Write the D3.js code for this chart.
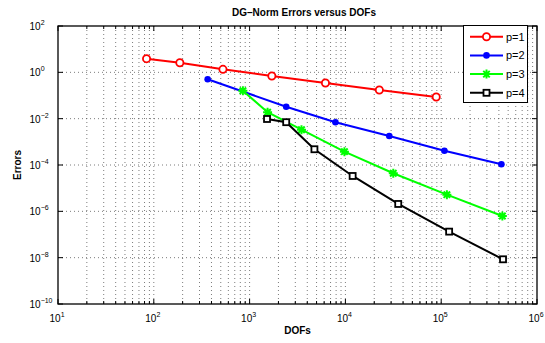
<!DOCTYPE html>
<html>
<head>
<meta charset="utf-8">
<script src="https://cdn.jsdelivr.net/npm/d3@7"></script>
<style>
  body { margin: 0; background: #fff; }
  text { font-family: "Liberation Sans", Arial, sans-serif; }
</style>
</head>
<body>
<script>
// data (DOFs vs DG-norm error)
const seriesNames = ['p=1', 'p=2', 'p=3', 'p=4'];
const colors = ['#ff0000', '#0000ff', '#00ff00', '#000000'];
const markers = ['circle', 'dot', 'star', 'square'];

const dofs1 = [84, 187, 527, 1707, 6190, 22600, 88700];
const err1 = [3.88, 2.6, 1.35, 0.695, 0.347, 0.173, 0.086];

const dofs2 = [365, 2410, 7870, 28700, 108000, 425000];
const err2 = [0.50, 0.0329, 0.00698, 0.00179, 4.15e-4, 1.07e-4];

const dofs3 = [851, 1540, 3480, 9770, 31600, 114600, 435000];
const err3 = [0.161, 0.0190, 3.34e-3, 3.76e-4, 4.39e-5, 5.24e-6, 6.3e-7];

const dofs4 = [1520, 2410, 4750, 11900, 35600, 121000, 442000];
const err4 = [0.00969, 0.00705, 4.78e-4, 3.36e-5, 2.08e-6, 1.33e-7, 8.5e-9];

const xExps = [1, 2, 3, 4, 5, 6];
const yExps = [2, 0, -2, -4, -6, -8, -10];

const series = [
  { x: dofs1, y: err1 },
  { x: dofs2, y: err2 },
  { x: dofs3, y: err3 },
  { x: dofs4, y: err4 }
];

const W = 545, H = 343;
const pl = 58, pr = 537, pt = 26, pb = 304;

const svg = d3.select('body').append('svg')
  .attr('width', W)
  .attr('height', H);

const x = d3.scaleLog().domain([1e1, 1e6]).range([pl, pr]);
const y = d3.scaleLog().domain([1e-10, 1e2]).range([pb, pt]);

// grid lines
const grid = svg.append('g')
  .attr('stroke', '#444')
  .attr('stroke-width', 0.7)
  .attr('stroke-dasharray', '1,3');

const xMinor = [];
for (let e = 1; e < 6; e++) {
  for (let m = 1; m < 10; m++) xMinor.push(m * Math.pow(10, e));
}
xMinor.push(1e6);

grid.selectAll('line.vx')
  .data(xMinor.filter(v => v > 10 && v < 1e6))
  .enter().append('line')
  .attr('x1', d => x(d)).attr('x2', d => x(d))
  .attr('y1', pt).attr('y2', pb);

grid.selectAll('line.hy')
  .data(yExps.filter(e => e > -10 && e < 2))
  .enter().append('line')
  .attr('y1', e => y(Math.pow(10, e))).attr('y2', e => y(Math.pow(10, e)))
  .attr('x1', pl).attr('x2', pr);

// axis box
svg.append('rect')
  .attr('x', pl).attr('y', pt)
  .attr('width', pr - pl).attr('height', pb - pt)
  .attr('fill', 'none')
  .attr('stroke', '#000')
  .attr('stroke-width', 1.3);

// ticks
const ticks = svg.append('g').attr('stroke', '#000').attr('stroke-width', 1);
xMinor.forEach(v => {
  const isMajor = Math.abs(Math.log10(v) - Math.round(Math.log10(v))) < 1e-9;
  const len = isMajor ? 5 : 3;
  ticks.append('line').attr('x1', x(v)).attr('x2', x(v)).attr('y1', pb).attr('y2', pb - len);
  ticks.append('line').attr('x1', x(v)).attr('x2', x(v)).attr('y1', pt).attr('y2', pt + len);
});
yExps.forEach(e => {
  const yy = y(Math.pow(10, e));
  ticks.append('line').attr('x1', pl).attr('x2', pl + 5).attr('y1', yy).attr('y2', yy);
  ticks.append('line').attr('x1', pr).attr('x2', pr - 5).attr('y1', yy).attr('y2', yy);
});

// tick labels
const fmtExp = e => (e < 0 ? '\u2212' + Math.abs(e) : String(e));

xExps.forEach(e => {
  const t = svg.append('text')
    .attr('x', x(Math.pow(10, e)) - 8.5)
    .attr('y', 322)
    .attr('font-size', 10)
    .attr('fill', '#000');
  t.append('tspan').text('10');
  t.append('tspan').attr('dy', -5).attr('font-size', 7).text(fmtExp(e));
});

yExps.forEach(e => {
  const t = svg.append('text')
    .attr('x', 29.5)
    .attr('y', y(Math.pow(10, e)) + 4)
    .attr('font-size', 10)
    .attr('fill', '#000');
  t.append('tspan').text('10');
  t.append('tspan').attr('dy', -5).attr('font-size', 7).text(fmtExp(e));
});

// labels and title
svg.append('text')
  .attr('x', (pl + pr) / 2).attr('y', 334)
  .attr('text-anchor', 'middle')
  .attr('font-size', 10).attr('font-weight', 'bold')
  .text('DOFs');

svg.append('text')
  .attr('transform', `translate(21,${(pt + pb) / 2}) rotate(-90)`)
  .attr('text-anchor', 'middle')
  .attr('font-size', 10).attr('font-weight', 'bold')
  .text('Errors');

svg.append('text')
  .attr('x', 304).attr('y', 16)
  .attr('text-anchor', 'middle')
  .attr('font-size', 10).attr('font-weight', 'bold')
  .text('DG\u2013Norm Errors versus DOFs');

// marker drawing
function drawMarker(g, kind, color, cx, cy) {
  if (kind === 'circle') {
    g.append('circle').attr('cx', cx).attr('cy', cy).attr('r', 3.6)
      .attr('fill', '#fff').attr('stroke', color).attr('stroke-width', 1.8);
  } else if (kind === 'dot') {
    g.append('circle').attr('cx', cx).attr('cy', cy).attr('r', 3.3)
      .attr('fill', color).attr('stroke', 'none');
  } else if (kind === 'star') {
    const r = 4.5, d = r * 0.72;
    const p = `M${cx - r},${cy}L${cx + r},${cy}M${cx},${cy - r}L${cx},${cy + r}` +
      `M${cx - d},${cy - d}L${cx + d},${cy + d}M${cx - d},${cy + d}L${cx + d},${cy - d}`;
    g.append('path').attr('d', p).attr('stroke', color).attr('stroke-width', 2).attr('fill', 'none');
  } else if (kind === 'square') {
    g.append('rect').attr('x', cx - 3).attr('y', cy - 3).attr('width', 6).attr('height', 6)
      .attr('fill', '#fff').attr('stroke', color).attr('stroke-width', 1.8);
  }
}

const line = d3.line().x(d => x(d[0])).y(d => y(d[1]));

series.forEach((s, i) => {
  const pts = s.x.map((v, j) => [v, s.y[j]]);
  const g = svg.append('g');
  g.append('path')
    .datum(pts)
    .attr('d', line)
    .attr('fill', 'none')
    .attr('stroke', colors[i])
    .attr('stroke-width', 2);
  pts.forEach(p => drawMarker(g, markers[i], colors[i], x(p[0]), y(p[1])));
});

// legend
const lg = svg.append('g');
lg.append('rect')
  .attr('x', 463.5).attr('y', 25.5)
  .attr('width', 64).attr('height', 77)
  .attr('fill', '#fff').attr('stroke', '#000').attr('stroke-width', 1);

seriesNames.forEach((name, i) => {
  const ly = 36.7 + i * 18.7;
  lg.append('line')
    .attr('x1', 470).attr('x2', 503).attr('y1', ly).attr('y2', ly)
    .attr('stroke', colors[i]).attr('stroke-width', 2);
  drawMarker(lg, markers[i], colors[i], 486.5, ly);
  lg.append('text')
    .attr('x', 506).attr('y', ly + 4)
    .attr('font-size', 11)
    .text(name);
});
</script>
</body>
</html>
